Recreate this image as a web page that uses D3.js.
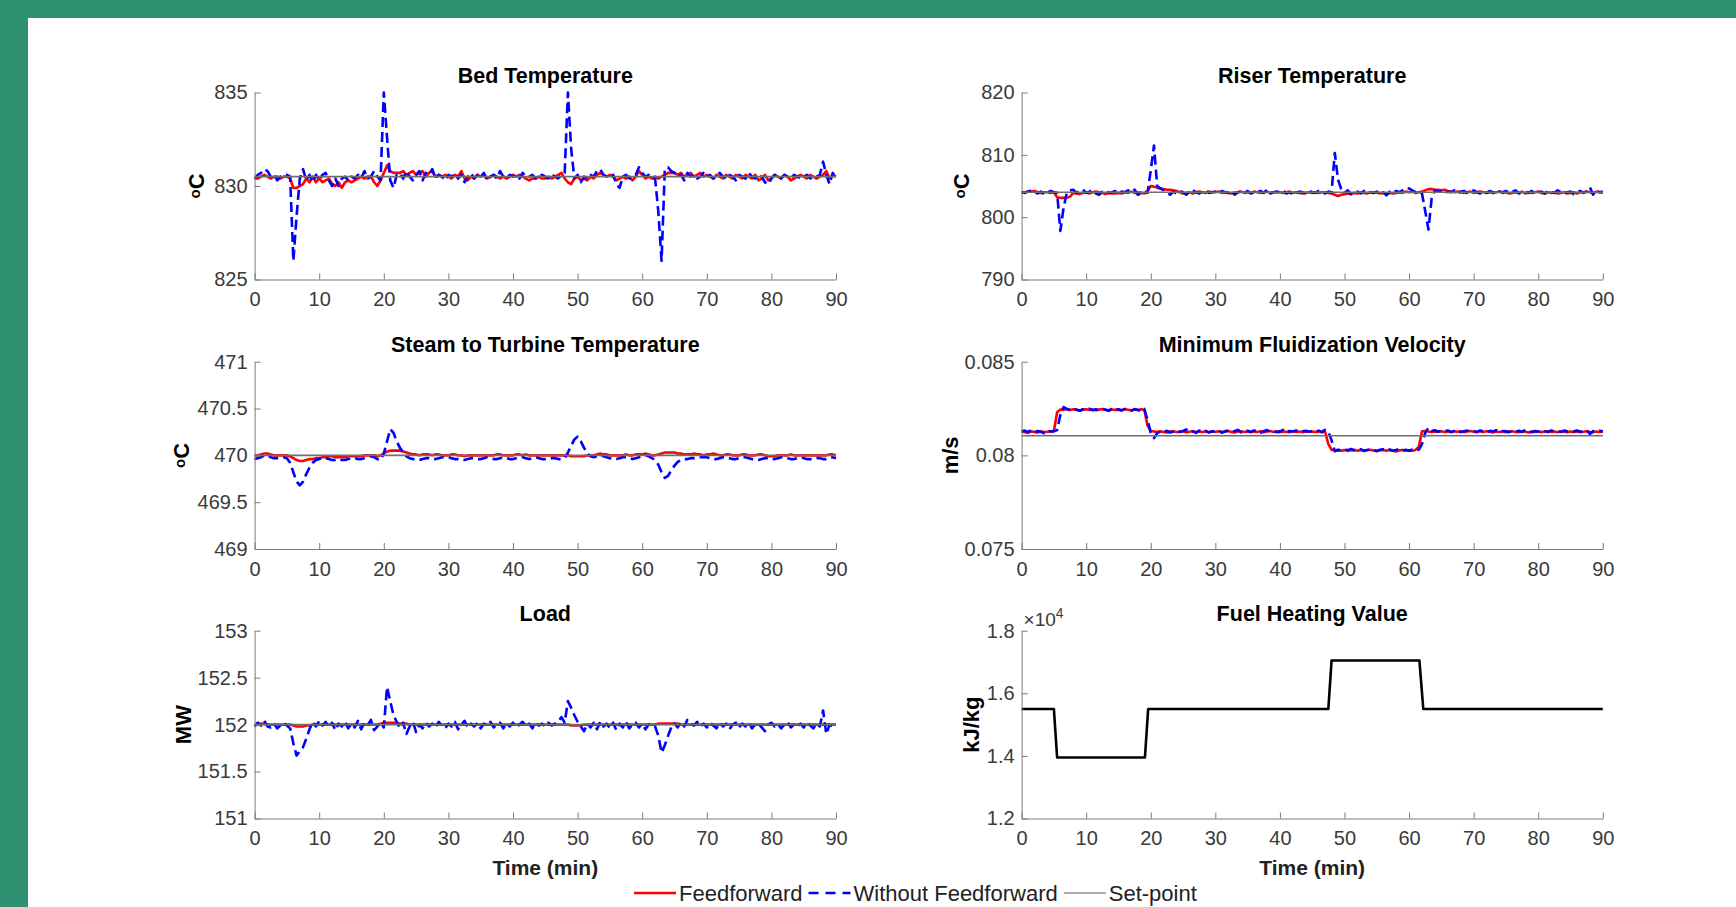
<!DOCTYPE html>
<html><head><meta charset="utf-8">
<script src="https://cdn.jsdelivr.net/npm/d3@7"></script>
<style>
body{margin:0;background:#2e9171;}
svg{display:block;}
text{font-family:"Liberation Sans",Arial,Helvetica,sans-serif;}
</style>
</head><body>
<script>
// ---------------- DATA ----------------
// sampling times (min), every 0.5 min from 0 to 90
const timeMin = d3.range(0, 90.5, 0.5);

// Bed temperature (°C)
const bedTicks = [825, 830, 835];
const bedSetPoint = 830.5;
const bedFF = [
830.4,830.4,830.5,830.6,830.5,830.4,830.5,830.5,830.4,830.5,
830.5,830.4,829.9,829.9,830.0,830.1,830.4,830.2,830.5,830.2,
830.4,830.2,830.3,830.4,830.1,830.0,830.2,829.9,830.2,830.3,
830.2,830.3,830.4,830.5,830.4,830.5,830.5,830.2,830.0,830.3,
830.7,831.1,830.8,830.7,830.7,830.7,830.8,830.6,830.7,830.8,
830.6,830.7,830.8,830.5,830.7,830.8,830.5,830.6,830.5,830.6,
830.5,830.4,830.6,830.5,830.8,830.4,830.3,830.5,830.4,830.6,
830.5,830.6,830.4,830.5,830.6,830.5,830.4,830.5,830.4,830.5,
830.6,830.5,830.6,830.5,830.4,830.3,830.4,830.4,830.5,830.4,
830.4,830.5,830.4,830.5,830.6,830.7,830.4,830.2,830.1,830.4,
830.5,830.3,830.4,830.3,830.5,830.4,830.6,830.7,830.6,830.5,
830.6,830.5,830.3,830.4,830.5,830.4,830.5,830.3,830.5,830.8,
830.6,830.4,830.5,830.4,830.5,830.4,830.5,830.6,830.7,830.7,
830.7,830.6,830.7,830.5,830.6,830.7,830.5,830.6,830.7,830.5,
830.6,830.5,830.4,830.6,830.5,830.4,830.6,830.5,830.4,830.6,
830.5,830.4,830.6,830.5,830.4,830.6,830.3,830.4,830.6,830.3,
830.4,830.6,830.5,830.4,830.6,830.5,830.3,830.4,830.5,830.6,
830.5,830.4,830.6,830.5,830.4,830.5,830.6,830.8,830.4,830.6,830.5];
const bedNoFF = [
830.4,830.6,830.7,830.9,830.8,830.5,830.6,830.3,830.5,830.6,
830.6,830.5,826.0,828.4,830.4,830.9,830.3,830.6,830.2,830.6,
830.3,830.6,830.7,830.3,830.0,830.4,830.0,830.4,830.5,830.3,
830.5,830.4,830.6,830.4,830.8,830.4,830.5,830.8,830.5,830.3,
835.0,832.6,830.3,829.9,830.6,830.7,830.4,830.8,830.5,830.3,
830.6,830.8,830.3,830.7,830.6,830.9,830.4,830.6,830.5,830.3,
830.6,830.5,830.7,830.4,830.6,830.2,830.5,830.7,830.4,830.6,
830.5,830.7,830.3,830.5,830.6,830.4,830.8,830.5,830.4,830.6,
830.5,830.6,830.4,830.7,830.5,830.5,830.6,830.4,830.5,830.6,
830.5,830.4,830.6,830.5,830.4,830.6,830.7,835.0,832.0,830.4,
830.6,830.2,830.5,830.4,830.6,830.5,830.8,830.9,830.6,830.5,
830.4,830.6,830.1,829.9,830.5,830.6,830.4,830.5,830.6,831.0,
830.7,830.5,830.6,830.4,830.4,828.6,826.0,830.9,831.0,830.8,
830.7,830.5,830.6,830.3,830.7,830.5,830.6,830.4,830.5,830.7,
830.5,830.6,830.4,830.5,830.7,830.5,830.4,830.6,830.5,830.3,
830.6,830.5,830.4,830.7,830.5,830.4,830.6,830.5,830.2,830.1,
830.4,830.6,830.5,830.4,830.6,830.5,830.4,830.6,830.5,830.4,
830.5,830.6,830.4,830.5,830.5,830.6,831.3,830.6,830.1,830.7,830.4];

// Riser temperature (°C)
const riserTicks = [790, 800, 810, 820];
const riserSetPoint = 804;
const riserFF = [
804.0,804.0,804.1,804.1,804.2,804.0,803.9,804.0,804.0,803.9,
804.0,803.2,803.1,803.1,803.1,803.3,803.9,803.8,803.7,803.9,
804.0,803.8,804.0,804.1,804.0,803.9,803.7,803.9,803.8,803.8,
803.9,803.8,804.0,803.9,804.1,803.9,804.0,803.9,803.8,804.2,
805.0,804.9,804.7,804.6,804.5,804.4,804.4,804.3,804.2,804.0,
803.8,803.9,804.0,803.8,804.0,804.1,804.0,803.9,804.1,804.0,
804.0,804.1,803.9,804.0,803.9,803.8,803.9,804.0,804.1,803.9,
804.0,803.9,804.1,804.0,803.9,804.0,804.1,803.9,804.0,804.0,
804.0,803.9,804.0,804.1,803.9,804.0,803.9,803.8,803.9,804.0,
803.9,804.0,803.9,804.0,804.0,803.9,803.8,803.6,803.4,803.6,
803.7,803.8,803.7,803.9,803.8,804.0,803.9,803.8,804.0,803.9,
804.0,803.8,803.9,803.7,803.9,803.8,803.9,804.0,803.9,804.1,
804.0,804.1,803.9,804.0,804.1,804.3,804.5,804.5,804.4,804.4,
804.3,804.4,804.2,804.1,804.0,804.1,804.0,803.9,804.0,804.1,
803.9,804.0,804.1,804.0,803.9,804.0,803.9,804.0,804.1,803.9,
804.0,803.8,803.9,804.0,803.9,804.1,803.8,804.0,803.9,804.0,
804.1,803.9,803.8,804.0,803.9,804.0,803.8,803.9,804.0,803.8,
803.9,804.0,803.8,804.0,804.0,804.1,804.0,803.9,804.1,804.0,803.9];
const riserNoFF = [
804.0,803.9,804.1,804.3,804.0,803.8,804.1,803.7,804.0,804.2,
804.0,803.9,797.8,801.5,803.9,804.3,804.4,803.9,804.2,804.4,
803.9,804.1,804.4,803.8,803.6,804.1,804.3,803.9,804.0,804.2,
803.8,804.1,804.0,804.3,804.0,804.4,803.6,803.8,804.1,803.9,
807.5,811.5,805.0,804.6,804.3,804.0,803.6,804.1,803.8,804.2,
804.0,803.6,804.1,804.3,804.0,803.8,804.1,804.2,803.9,804.0,
804.1,803.8,804.2,804.0,803.9,804.3,803.6,804.0,804.1,803.9,
804.2,803.8,804.0,804.1,804.2,803.9,804.4,803.8,804.0,804.1,
804.0,804.3,803.8,804.0,803.6,803.9,804.1,804.0,803.8,804.2,
804.0,803.9,804.2,804.0,803.8,804.1,804.0,810.3,806.0,804.5,
803.9,804.3,803.7,804.0,804.1,803.8,804.2,804.3,804.0,803.9,
804.1,803.7,804.0,803.5,804.1,803.9,804.2,804.0,804.3,804.7,
804.6,804.3,804.0,804.2,803.8,801.0,798.0,803.0,804.3,804.1,
804.2,803.9,804.1,804.0,804.3,803.8,804.1,804.2,803.9,804.0,
804.3,804.0,803.8,804.1,803.9,804.2,804.0,803.7,804.1,804.0,
804.2,803.9,804.1,804.3,803.8,804.0,804.1,803.9,804.2,803.7,
804.0,804.1,803.8,804.2,804.0,803.9,804.3,804.0,803.8,804.0,
804.1,803.7,804.0,804.2,803.9,804.1,804.8,803.6,804.3,804.0,804.1];

// Steam to turbine temperature (°C)
const steamTicks = [469, 469.5, 470, 470.5, 471];
const steamSetPoint = 470;
const steamFF = [
470.00,470.00,470.01,470.02,470.02,470.01,470.00,470.00,470.00,470.00,
470.00,469.99,469.97,469.95,469.94,469.94,469.95,469.96,469.96,469.97,
469.97,469.98,469.98,469.99,469.99,469.98,469.98,469.98,469.98,469.99,
469.99,469.99,469.99,469.99,470.00,470.00,470.00,470.00,469.99,470.00,
470.02,470.04,470.05,470.05,470.05,470.05,470.04,470.03,470.02,470.01,
470.01,470.00,470.01,470.01,470.01,470.00,470.01,470.01,470.00,470.00,
470.00,470.01,470.01,470.00,470.00,469.99,470.00,470.00,470.00,470.00,
470.00,470.00,470.00,470.00,470.00,470.01,470.01,470.00,470.00,470.00,
470.00,470.01,470.01,470.00,470.01,470.00,470.00,470.00,470.00,470.00,
470.00,470.00,470.00,470.00,470.00,470.00,470.00,470.00,469.99,469.99,
469.99,469.99,469.99,470.00,470.00,470.00,470.01,470.02,470.01,470.01,
470.00,470.00,470.00,470.00,470.00,470.01,470.00,470.00,470.01,470.01,
470.01,470.02,470.01,470.00,470.00,470.01,470.02,470.03,470.03,470.03,
470.03,470.02,470.02,470.01,470.01,470.01,470.02,470.01,470.01,470.00,
470.01,470.01,470.02,470.01,470.00,470.00,470.01,470.01,470.00,470.00,
470.00,470.01,470.01,470.00,470.00,470.00,470.01,470.01,470.00,469.99,
469.99,469.99,470.00,470.00,470.00,470.00,470.01,470.00,470.00,470.00,
470.00,470.00,470.00,470.00,470.00,470.00,470.00,470.00,470.01,470.01,470.00];
const steamNoFF = [
469.96,469.97,469.98,470.00,470.00,469.98,469.97,469.97,469.98,469.98,
469.97,469.92,469.82,469.72,469.68,469.72,469.80,469.87,469.92,469.95,
469.96,469.97,469.97,469.96,469.95,469.95,469.96,469.95,469.95,469.96,
469.97,469.97,469.96,469.96,469.97,469.98,469.99,469.98,469.96,469.95,
470.02,470.15,470.28,470.24,470.15,470.08,470.03,469.99,469.97,469.96,
469.95,469.95,469.96,469.97,469.97,469.96,469.96,469.97,469.98,469.98,
469.98,469.97,469.96,469.96,469.95,469.95,469.96,469.97,469.97,469.96,
469.96,469.97,469.98,469.97,469.96,469.96,469.97,469.98,469.97,469.96,
469.96,469.97,469.98,469.98,469.97,469.96,469.97,469.98,469.97,469.96,
469.96,469.96,469.97,469.97,469.96,469.96,469.97,470.03,470.10,470.17,
470.20,470.15,470.08,470.02,469.99,469.98,469.99,470.00,469.99,469.98,
469.97,469.96,469.96,469.97,469.98,469.98,469.97,469.96,469.97,469.98,
469.99,470.00,469.99,469.97,469.95,469.90,469.82,469.76,469.78,469.84,
469.89,469.93,469.95,469.96,469.96,469.97,469.97,469.98,469.98,469.98,
469.98,469.97,469.96,469.96,469.97,469.98,469.98,469.97,469.96,469.96,
469.97,469.98,469.98,469.97,469.96,469.95,469.95,469.96,469.97,469.97,
469.96,469.96,469.97,469.98,469.98,469.97,469.96,469.96,469.97,469.98,
469.97,469.96,469.96,469.96,469.97,469.97,469.96,469.96,469.97,469.98,469.97];

// Minimum fluidization velocity (m/s)
const mfvTicks = [0.075, 0.08, 0.085];
const mfvSetPoint = 0.08105;
const mfvFF = [
0.08127,0.08124,0.08120,0.08128,0.08125,0.08122,0.08127,0.08124,0.08126,0.08128,
0.08130,0.08230,0.08245,0.08243,0.08247,0.08242,0.08246,0.08243,0.08240,0.08244,
0.08246,0.08242,0.08245,0.08241,0.08244,0.08247,0.08243,0.08240,0.08245,0.08243,
0.08244,0.08241,0.08246,0.08243,0.08240,0.08245,0.08242,0.08246,0.08243,0.08160,
0.08130,0.08127,0.08124,0.08128,0.08125,0.08122,0.08127,0.08129,0.08124,0.08126,
0.08128,0.08123,0.08126,0.08129,0.08124,0.08127,0.08125,0.08128,0.08122,0.08127,
0.08125,0.08129,0.08124,0.08127,0.08130,0.08125,0.08122,0.08127,0.08129,0.08125,
0.08127,0.08124,0.08128,0.08125,0.08129,0.08123,0.08127,0.08130,0.08125,0.08127,
0.08124,0.08128,0.08126,0.08123,0.08129,0.08125,0.08127,0.08124,0.08128,0.08126,
0.08127,0.08125,0.08128,0.08124,0.08126,0.08060,0.08030,0.08026,0.08028,0.08025,
0.08028,0.08024,0.08027,0.08030,0.08025,0.08028,0.08023,0.08027,0.08030,0.08026,
0.08022,0.08027,0.08029,0.08024,0.08028,0.08025,0.08021,0.08027,0.08029,0.08025,
0.08027,0.08025,0.08029,0.08045,0.08128,0.08130,0.08127,0.08125,0.08128,0.08126,
0.08129,0.08125,0.08127,0.08123,0.08128,0.08126,0.08129,0.08124,0.08127,0.08130,
0.08126,0.08123,0.08128,0.08125,0.08129,0.08126,0.08122,0.08127,0.08125,0.08128,
0.08124,0.08127,0.08129,0.08125,0.08123,0.08128,0.08126,0.08122,0.08127,0.08125,
0.08128,0.08124,0.08127,0.08129,0.08125,0.08127,0.08123,0.08128,0.08126,0.08124,
0.08127,0.08125,0.08128,0.08124,0.08126,0.08129,0.08125,0.08123,0.08127,0.08125,0.08126];
const mfvNoFF = [
0.08128,0.08132,0.08125,0.08134,0.08122,0.08130,0.08126,0.08118,0.08131,0.08127,
0.08128,0.08135,0.08215,0.08258,0.08248,0.08242,0.08250,0.08244,0.08238,0.08246,
0.08243,0.08249,0.08241,0.08246,0.08240,0.08248,0.08243,0.08238,0.08251,0.08244,
0.08246,0.08240,0.08248,0.08244,0.08239,0.08247,0.08242,0.08236,0.08248,0.08190,
0.08120,0.08092,0.08118,0.08128,0.08124,0.08131,0.08122,0.08127,0.08134,0.08125,
0.08130,0.08138,0.08124,0.08129,0.08120,0.08133,0.08127,0.08131,0.08123,0.08129,
0.08126,0.08134,0.08121,0.08128,0.08132,0.08125,0.08130,0.08136,0.08122,0.08128,
0.08131,0.08125,0.08133,0.08127,0.08120,0.08129,0.08135,0.08126,0.08130,0.08124,
0.08128,0.08136,0.08123,0.08130,0.08127,0.08133,0.08125,0.08129,0.08131,0.08126,
0.08130,0.08127,0.08132,0.08125,0.08136,0.08128,0.08080,0.08022,0.08030,0.08026,
0.08031,0.08028,0.08034,0.08026,0.08030,0.08033,0.08025,0.08029,0.08032,0.08027,
0.08024,0.08030,0.08033,0.08027,0.08031,0.08025,0.08029,0.08034,0.08026,0.08030,
0.08024,0.08031,0.08028,0.08030,0.08060,0.08120,0.08148,0.08130,0.08134,0.08126,
0.08131,0.08128,0.08133,0.08125,0.08130,0.08136,0.08124,0.08129,0.08132,0.08127,
0.08130,0.08125,0.08133,0.08128,0.08122,0.08131,0.08127,0.08134,0.08126,0.08130,
0.08128,0.08124,0.08132,0.08127,0.08131,0.08125,0.08136,0.08128,0.08123,0.08130,
0.08126,0.08132,0.08129,0.08124,0.08133,0.08127,0.08130,0.08125,0.08132,0.08128,
0.08131,0.08127,0.08133,0.08126,0.08129,0.08134,0.08114,0.08130,0.08127,0.08131,0.08128];

// Load (MW)
const loadTicks = [151, 151.5, 152, 152.5, 153];
const loadSetPoint = 152;
const loadFF = [
152.00,152.00,152.01,152.01,152.00,152.00,152.00,152.00,152.00,152.00,
152.00,152.00,151.99,151.98,151.98,151.98,151.99,151.99,152.00,152.00,
152.00,152.00,152.00,152.00,152.00,152.00,152.00,152.00,152.00,152.00,
152.00,152.00,152.00,152.00,152.00,152.00,152.00,152.00,152.00,152.01,
152.02,152.02,152.02,152.02,152.02,152.01,152.01,152.01,152.00,152.00,
152.00,152.00,152.00,152.00,152.00,152.00,152.00,152.00,152.00,152.00,
152.00,152.00,152.00,152.00,152.00,152.00,152.00,152.00,152.00,152.00,
152.00,152.00,152.00,152.00,152.00,152.00,152.00,152.00,152.00,152.00,
152.00,152.00,152.00,152.00,152.00,152.00,152.00,152.00,152.00,152.00,
152.00,152.00,152.00,152.00,152.00,152.00,152.00,152.00,151.99,151.99,
151.99,151.99,152.00,152.00,152.00,152.00,152.00,152.00,152.00,152.00,
152.00,152.00,152.00,152.00,152.00,152.00,152.00,152.00,152.00,152.00,
152.00,152.00,152.00,152.00,152.00,152.01,152.01,152.01,152.01,152.01,
152.01,152.01,152.00,152.00,152.00,152.00,152.00,152.00,152.00,152.00,
152.00,152.00,152.00,152.00,152.00,152.00,152.00,152.00,152.00,152.00,
152.00,152.00,152.00,152.00,152.00,152.00,152.00,152.00,152.00,152.00,
152.00,152.00,152.00,152.00,152.00,152.00,152.00,152.00,152.00,152.00,
152.00,152.00,152.00,152.00,152.00,152.00,152.00,152.00,152.00,152.00,152.00];
const loadNoFF = [
151.98,152.02,151.99,152.04,151.98,151.97,152.01,151.96,151.99,152.02,
151.99,151.96,151.80,151.67,151.72,151.76,151.85,151.95,152.03,151.98,
152.04,151.99,152.03,151.97,152.02,151.94,152.01,151.98,152.03,151.96,
152.01,151.97,152.04,151.95,152.02,151.99,152.05,151.94,151.98,152.02,
151.97,152.40,152.25,152.10,152.03,151.96,152.02,151.90,151.98,152.03,
151.92,152.00,151.96,152.02,151.98,152.01,151.97,152.03,151.99,151.96,
152.01,151.98,152.03,151.95,152.00,152.04,151.97,152.01,151.98,152.02,
151.96,152.01,151.99,152.03,151.97,152.00,152.02,151.96,152.01,151.98,
152.02,151.97,152.00,152.03,151.98,152.01,151.96,152.02,151.99,152.01,
151.98,152.02,151.99,152.01,152.03,152.08,152.02,152.25,152.18,152.10,
152.03,151.98,151.93,152.01,151.97,152.02,151.95,152.03,151.98,152.01,
151.96,152.02,151.94,152.01,151.97,152.03,151.96,152.00,152.02,151.97,
152.01,151.95,152.00,152.01,151.98,151.88,151.70,151.78,151.88,151.97,
152.01,151.97,152.03,151.98,152.05,152.01,151.99,152.03,151.98,152.01,
151.97,152.02,151.99,151.96,152.02,151.98,152.01,151.95,152.00,152.02,
151.97,152.01,151.98,152.02,151.96,152.00,152.01,151.97,151.93,152.00,
152.02,151.98,152.01,151.96,152.00,152.03,151.97,152.00,151.98,152.01,
151.97,152.02,151.99,151.96,152.01,151.98,152.15,151.90,152.00,151.98,152.00];

// Fuel heating value (kJ/kg)
const fuelTicks = [12000, 14000, 16000, 18000];
const fuelTickLabels = ["1.2", "1.4", "1.6", "1.8"];
const fuelTime = [0, 5, 5.5, 19.1, 19.6, 47.5, 48, 61.6, 62.2, 90];
const fuelValue = [15500, 15500, 13950, 13950, 15500, 15500, 17050, 17050, 15500, 15500];

const xTicks = [0, 10, 20, 30, 40, 50, 60, 70, 80, 90];
const legendLabels = ["Feedforward", "Without Feedforward", "Set-point"];

// ---------------- DRAWING ----------------
const W = 1736, H = 907;
const C_FF = "#ff0000", C_NOFF = "#0000ff", C_SP = "#6f6f6f";
const svg = d3.select("body").append("svg").attr("width", W).attr("height", H);
svg.append("rect").attr("width", W).attr("height", H).attr("fill", "#2e9171");
svg.append("rect").attr("x", 28).attr("y", 18).attr("width", W - 28).attr("height", H - 18).attr("fill", "#ffffff");

const colX = [[254.6, 836], [1021.6, 1602.8]];
const rowY = [[92.5, 279.5], [361.7, 549], [630.7, 818.5]];

const panels = [
  {title: "Bed Temperature", col: 0, row: 0, ylab: "degC", labOff: 52, ticks: bedTicks, labels: bedTicks.map(String), sp: bedSetPoint, ff: bedFF, noff: bedNoFF},
  {title: "Riser Temperature", col: 1, row: 0, ylab: "degC", labOff: 54, ticks: riserTicks, labels: riserTicks.map(String), sp: riserSetPoint, ff: riserFF, noff: riserNoFF},
  {title: "Steam to Turbine Temperature", col: 0, row: 1, ylab: "degC", labOff: 67, ticks: steamTicks, labels: steamTicks.map(String), sp: steamSetPoint, ff: steamFF, noff: steamNoFF},
  {title: "Minimum Fluidization Velocity", col: 1, row: 1, ylab: "m/s", labOff: 71, ticks: mfvTicks, labels: mfvTicks.map(String), sp: mfvSetPoint, ff: mfvFF, noff: mfvNoFF},
  {title: "Load", col: 0, row: 2, ylab: "MW", labOff: 71, ticks: loadTicks, labels: loadTicks.map(String), sp: loadSetPoint, ff: loadFF, noff: loadNoFF},
  {title: "Fuel Heating Value", col: 1, row: 2, ylab: "kJ/kg", labOff: 50, ticks: fuelTicks, labels: fuelTickLabels, fuel: true}
];

panels.forEach(p => {
  const [x0, x1] = colX[p.col];
  const [y0, y1] = rowY[p.row];
  const x = d3.scaleLinear().domain([0, 90]).range([x0, x1]);
  const y = d3.scaleLinear().domain(d3.extent(p.ticks)).range([y1, y0]);
  const g = svg.append("g");

  if (p.fuel) {
    const fl = d3.line().x((d, i) => x(fuelTime[i])).y(d => y(d));
    g.append("path").attr("d", fl(fuelValue)).attr("fill", "none")
      .attr("stroke", "#000").attr("stroke-width", 2.6).attr("stroke-linejoin", "round");
  } else {
    const ln = d3.line().x((d, i) => x(timeMin[i])).y(d => y(d));
    g.append("path").attr("d", ln(p.ff)).attr("fill", "none")
      .attr("stroke", C_FF).attr("stroke-width", 2.6).attr("stroke-linejoin", "round");
    g.append("path").attr("d", ln(p.noff)).attr("fill", "none")
      .attr("stroke", C_NOFF).attr("stroke-width", 2.6).attr("stroke-dasharray", "10,5").attr("stroke-linejoin", "round");
    g.append("line").attr("x1", x(0)).attr("x2", x(90)).attr("y1", y(p.sp)).attr("y2", y(p.sp))
      .attr("stroke", C_SP).attr("stroke-width", 1.6);
  }

  const xa = g.append("g").attr("transform", `translate(0,${y1})`)
    .call(d3.axisBottom(x).tickValues(xTicks).tickSizeInner(-6).tickSizeOuter(0).tickPadding(12.5));
  const labMap = new Map(p.ticks.map((t, i) => [t, p.labels[i]]));
  const ya = g.append("g").attr("transform", `translate(${x0},0)`)
    .call(d3.axisLeft(y).tickValues(p.ticks).tickFormat(d => labMap.get(d)).tickSizeInner(-6).tickSizeOuter(0).tickPadding(7));
  [xa, ya].forEach(a => {
    a.select(".domain").attr("stroke", "#7a7a7a");
    a.selectAll(".tick line").attr("stroke", "#7a7a7a");
    a.selectAll(".tick text").attr("fill", "#3a3a3a").style("font-size", "20px").style("font-family", '"Liberation Sans",Arial,sans-serif');
  });

  g.append("text").attr("x", (x0 + x1) / 2).attr("y", y0 - 10).attr("text-anchor", "middle")
    .style("font-size", "21.5px").style("font-weight", "bold").attr("fill", "#000").text(p.title);

  const yl = g.append("text").attr("transform", `translate(${x0 - p.labOff},${(y0 + y1) / 2}) rotate(-90)`)
    .attr("text-anchor", "middle").attr("dy", "0.35em")
    .style("font-size", "22px").style("font-weight", "bold").attr("fill", "#000");
  if (p.ylab === "degC") {
    yl.append("tspan").style("font-size", "15px").attr("dy", "-0.2em").text("o");
    yl.append("tspan").attr("dy", "0.2em").text("C");
  } else {
    yl.text(p.ylab);
  }

  if (p.fuel) {
    const ex = g.append("text").attr("x", x0 + 2).attr("y", y0 - 5).attr("fill", "#3a3a3a").style("font-size", "19px");
    ex.append("tspan").text("\u00d710");
    ex.append("tspan").attr("dy", "-8").style("font-size", "14px").text("4");
  }
  if (p.row === 2) {
    g.append("text").attr("x", (x0 + x1) / 2).attr("y", 875).attr("text-anchor", "middle")
      .style("font-size", "21px").style("font-weight", "bold").attr("fill", "#222").text("Time (min)");
  }
});

// legend
const lgY = 893;
const lgStyles = [
  {stroke: C_FF, dash: null, w: 2.6},
  {stroke: C_NOFF, dash: "10,7", w: 2.6},
  {stroke: "#555", dash: null, w: 1.2}
];
let lx = 634;
legendLabels.forEach((lab, i) => {
  const s = lgStyles[i];
  const l = svg.append("line").attr("x1", lx).attr("x2", lx + 42).attr("y1", lgY).attr("y2", lgY)
    .attr("stroke", s.stroke).attr("stroke-width", s.w);
  if (s.dash) l.attr("stroke-dasharray", s.dash);
  const t = svg.append("text").attr("x", lx + 45).attr("y", lgY).attr("dy", "0.35em")
    .style("font-size", "22px").attr("fill", "#222").text(lab);
  lx = lx + 45 + t.node().getComputedTextLength() + 6;
});
</script>
</body></html>
